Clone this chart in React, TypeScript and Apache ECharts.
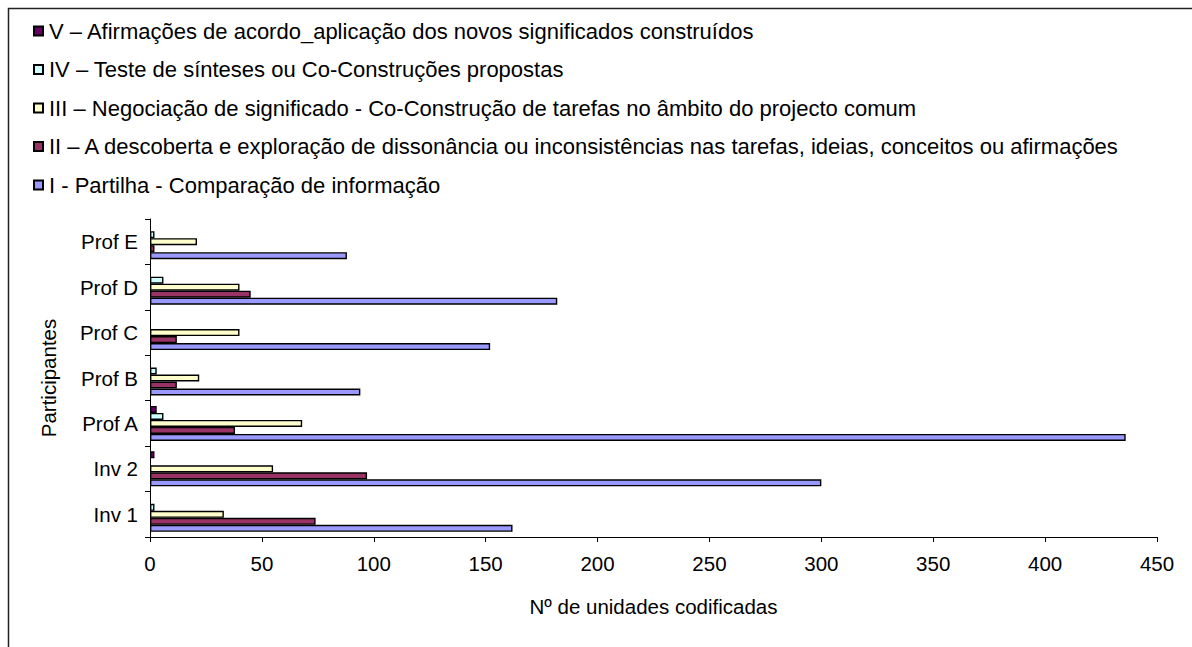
import React, { useEffect, useRef } from "react";
import * as echarts from "echarts";

const categories = ["Inv 1", "Inv 2", "Prof A", "Prof B", "Prof C", "Prof D", "Prof E"];
const nameI = "I - Partilha - Comparação de informação";
const nameII = "II – A descoberta e exploração de dissonância ou inconsistências nas tarefas, ideias, conceitos ou afirmações";
const nameIII = "III – Negociação de significado - Co-Construção de tarefas no âmbito do projecto comum";
const nameIV = "IV – Teste de sínteses ou Co-Construções propostas";
const nameV = "V – Afirmações de acordo_aplicação dos novos significados construídos";

const valuesI = [162, 300, 436, 94, 152, 182, 88];
const valuesII = [74, 97, 38, 12, 12, 45, 2];
const valuesIII = [33, 55, 68, 22, 40, 40, 21];
const valuesIV = [2, null, 6, 3, null, 6, 2];
const valuesV = [null, 2, 3, null, null, null, null];

const xTicks = { min: 0, max: 450, interval: 50 };

const FONT = "'Liberation Sans', Arial, sans-serif";
const AXIS_FS = 20.5;
const LEGEND_FS = 22;

export default function App() {
  const ref = useRef<HTMLDivElement>(null);
  useEffect(() => {
    document.body.style.margin = "0";
    const chart = echarts.init(ref.current!, null, { renderer: "svg" });
    const mk = (name: string, data: (number | null)[], color: string) => ({
      name,
      type: "bar",
      data,
      barWidth: 7,
      barGap: "0%",
      itemStyle: { color, borderColor: "#000", borderWidth: 1.4 },
    });
    chart.setOption({
      animation: false,
      backgroundColor: "#fff",
      textStyle: { fontFamily: FONT },
      graphic: [
        {
          type: "rect",
          shape: { x: 8.5, y: 8.5, width: 2000, height: 2000 },
          style: { fill: "none", stroke: "#222", lineWidth: 1.5 },
        },
      ],
      legend: {
        orient: "vertical",
        left: 28,
        top: 15,
        itemWidth: 9,
        itemHeight: 9,
        itemGap: 16.5,
        icon: "rect",
        data: [nameV, nameIV, nameIII, nameII, nameI],
        textStyle: { fontSize: LEGEND_FS, color: "#000", fontFamily: FONT, lineHeight: 22, padding: [0, 0, 0, 1] },
      },
      grid: { left: 150, right: 35, top: 219, bottom: 110, containLabel: false },
      xAxis: {
        type: "value",
        min: xTicks.min,
        max: xTicks.max,
        interval: xTicks.interval,
        name: "Nº de unidades codificadas",
        nameLocation: "middle",
        nameGap: 59,
        nameTextStyle: { fontSize: AXIS_FS, color: "#000", fontFamily: FONT },
        axisLine: { show: true, lineStyle: { color: "#000", width: 1 } },
        axisTick: { show: true, length: 5, lineStyle: { color: "#000" } },
        axisLabel: { fontSize: AXIS_FS, color: "#000", margin: 16, fontFamily: FONT },
        splitLine: { show: false },
      },
      yAxis: {
        type: "category",
        data: categories,
        name: "Participantes",
        nameLocation: "middle",
        nameGap: 91,
        nameTextStyle: { fontSize: AXIS_FS, color: "#000", fontFamily: FONT },
        axisLine: { show: true, lineStyle: { color: "#000", width: 1 } },
        axisTick: { show: true, length: 5, lineStyle: { color: "#000" } },
        axisLabel: { fontSize: AXIS_FS, color: "#000", margin: 12, fontFamily: FONT },
      },
      series: [
        mk(nameV, valuesV, "#660066"),
        mk(nameIV, valuesIV, "#CCFFFF"),
        mk(nameIII, valuesIII, "#FFFFCC"),
        mk(nameII, valuesII, "#993366"),
        mk(nameI, valuesI, "#9999FF"),
      ],
    });
    return () => chart.dispose();
  }, []);
  return <div ref={ref} style={{ width: 1192, height: 647 }} />;
}
